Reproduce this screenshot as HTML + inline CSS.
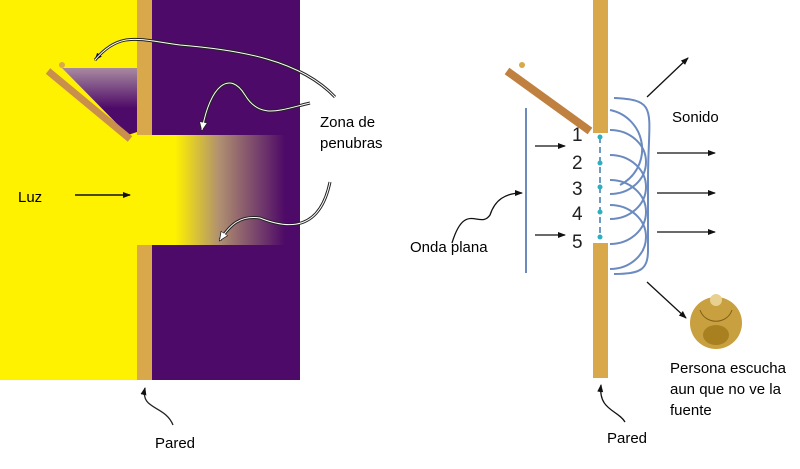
<!DOCTYPE html>
<html><head><meta charset="utf-8"><style>
body{margin:0;background:#fff;width:800px;height:464px;overflow:hidden}
svg text{font-family:"Liberation Sans",sans-serif}
</style></head><body>
<svg width="800" height="464" viewBox="0 0 800 464">
<defs>
<linearGradient id="g1" x1="0" x2="1" y1="0" y2="0">
<stop offset="0" stop-color="#fff200"/><stop offset="0.4" stop-color="#b09070"/><stop offset="1" stop-color="#4e0a68"/></linearGradient>
<linearGradient id="g2" x1="0" x2="0" y1="0" y2="1">
<stop offset="0" stop-color="#a88aa0"/><stop offset="0.6" stop-color="#4e0a68"/></linearGradient>
<marker id="ah" markerWidth="8" markerHeight="8" refX="7" refY="4" orient="auto" markerUnits="userSpaceOnUse"><path d="M0,1 L8,4 L0,7z" fill="#111"/></marker>
<marker id="aw" markerWidth="10" markerHeight="10" refX="8" refY="5" orient="auto" markerUnits="userSpaceOnUse"><path d="M0,1 L9,5 L0,9z" fill="#fff" stroke="#222" stroke-width="0.8"/></marker>
</defs>
<rect x="0" y="0" width="137" height="380" fill="#fff200"/>
<rect x="152" y="0" width="148" height="380" fill="#4e0a68"/>
<rect x="137" y="135" width="40" height="110" fill="#fff200"/>
<rect x="175" y="135" width="110" height="110" fill="url(#g1)"/>
<rect x="137" y="0" width="15" height="135" fill="#d8a84a"/>
<rect x="137" y="245" width="15" height="135" fill="#d8a84a"/>
<polygon points="62,68 137,68 137,132 128,135" fill="url(#g2)"/>
<line x1="48" y1="71" x2="130" y2="139" stroke="#c8904a" stroke-width="7"/>
<circle cx="62" cy="65" r="3" fill="#d8a84a"/>
<path d="M335,97 C300,60 240,50 180,45 C140,40 120,30 95,60" fill="none" stroke="#222" stroke-width="3" marker-end="url(#ah)"/>
<path d="M335,97 C300,60 240,50 180,45 C140,40 120,30 95,60" fill="none" stroke="#fff" stroke-width="1"/>
<path d="M310,103 C280,110 260,120 245,95 C230,70 210,85 202,130" fill="none" stroke="#222" stroke-width="3" marker-end="url(#aw)"/>
<path d="M310,103 C280,110 260,120 245,95 C230,70 210,85 202,130" fill="none" stroke="#fff" stroke-width="1"/>
<path d="M330,182 C320,230 290,230 260,218 C240,215 230,225 220,240" fill="none" stroke="#222" stroke-width="3" marker-end="url(#aw)"/>
<path d="M330,182 C320,230 290,230 260,218 C240,215 230,225 220,240" fill="none" stroke="#fff" stroke-width="1"/>
<line x1="75" y1="195" x2="130" y2="195" stroke="#111" stroke-width="1.5" marker-end="url(#ah)"/>
<text x="18" y="202" font-size="15">Luz</text>
<text x="320" y="127" font-size="15">Zona de</text>
<text x="320" y="148" font-size="15">penubras</text>
<path d="M173,425 C165,405 140,410 145,388" fill="none" stroke="#222" stroke-width="1.3" marker-end="url(#ah)"/>
<text x="155" y="448" font-size="15">Pared</text>
<rect x="593" y="0" width="15" height="133" fill="#d8a84a"/>
<rect x="593" y="243" width="15" height="135" fill="#d8a84a"/>
<line x1="507" y1="71" x2="590" y2="131" stroke="#c08040" stroke-width="8"/>
<circle cx="522" cy="65" r="3" fill="#d8a84a"/>
<line x1="526" y1="108" x2="526" y2="273" stroke="#6a8ac0" stroke-width="2"/>
<line x1="600" y1="137" x2="600" y2="237" stroke="#3a7ab0" stroke-width="1.5" stroke-dasharray="6,4"/>
<g fill="#2ab0c0"><circle cx="600" cy="137" r="2.5"/><circle cx="600" cy="163" r="2.5"/><circle cx="600" cy="187" r="2.5"/><circle cx="600" cy="212" r="2.5"/><circle cx="600" cy="237" r="2.5"/></g>
<g font-size="19" fill="#222"><text x="572" y="141">1</text><text x="572" y="169">2</text><text x="572" y="195">3</text><text x="572" y="220">4</text><text x="572" y="248">5</text></g>
<g fill="none" stroke="#6a8ac0" stroke-width="2">
<path d="M614,98 C660,100 648,110 648,180 L648,250 C648,270 640,274 614,274"/>
<path d="M610,130 A36,32 0 0 1 610,194"/>
<path d="M610,155 A36,32 0 0 1 610,219"/>
<path d="M610,180 A36,32 0 0 1 610,244"/>
<path d="M610,205 A36,32 0 0 1 610,269"/>
<path d="M610,110 A40,40 0 0 1 620,185"/>
</g>
<g stroke="#111" stroke-width="1.3" marker-end="url(#ah)">
<line x1="535" y1="146" x2="565" y2="146"/>
<line x1="535" y1="235" x2="565" y2="235"/>
<line x1="657" y1="153" x2="715" y2="153"/>
<line x1="657" y1="193" x2="715" y2="193"/>
<line x1="657" y1="232" x2="715" y2="232"/>
<line x1="647" y1="97" x2="688" y2="58"/>
<line x1="647" y1="282" x2="686" y2="318"/>
</g>
<path d="M452,243 C465,200 480,230 490,215 C495,200 505,193 522,193" fill="none" stroke="#111" stroke-width="1.3" marker-end="url(#ah)"/>
<circle cx="716" cy="323" r="26" fill="#c8a040"/>
<circle cx="716" cy="300" r="6" fill="#e8d090"/>
<ellipse cx="716" cy="335" rx="13" ry="10" fill="#a88020"/>
<path d="M700,310 C705,325 727,325 732,310" fill="none" stroke="#806010" stroke-width="1"/>
<text x="672" y="122" font-size="15">Sonido</text>
<text x="410" y="252" font-size="15">Onda plana</text>
<text x="670" y="373" font-size="15">Persona escucha</text>
<text x="670" y="394" font-size="15">aun que no ve la</text>
<text x="670" y="415" font-size="15">fuente</text>
<path d="M625,422 C618,410 598,410 601,385" fill="none" stroke="#111" stroke-width="1.3" marker-end="url(#ah)"/>
<text x="607" y="443" font-size="15">Pared</text>
</svg>
</body></html>
